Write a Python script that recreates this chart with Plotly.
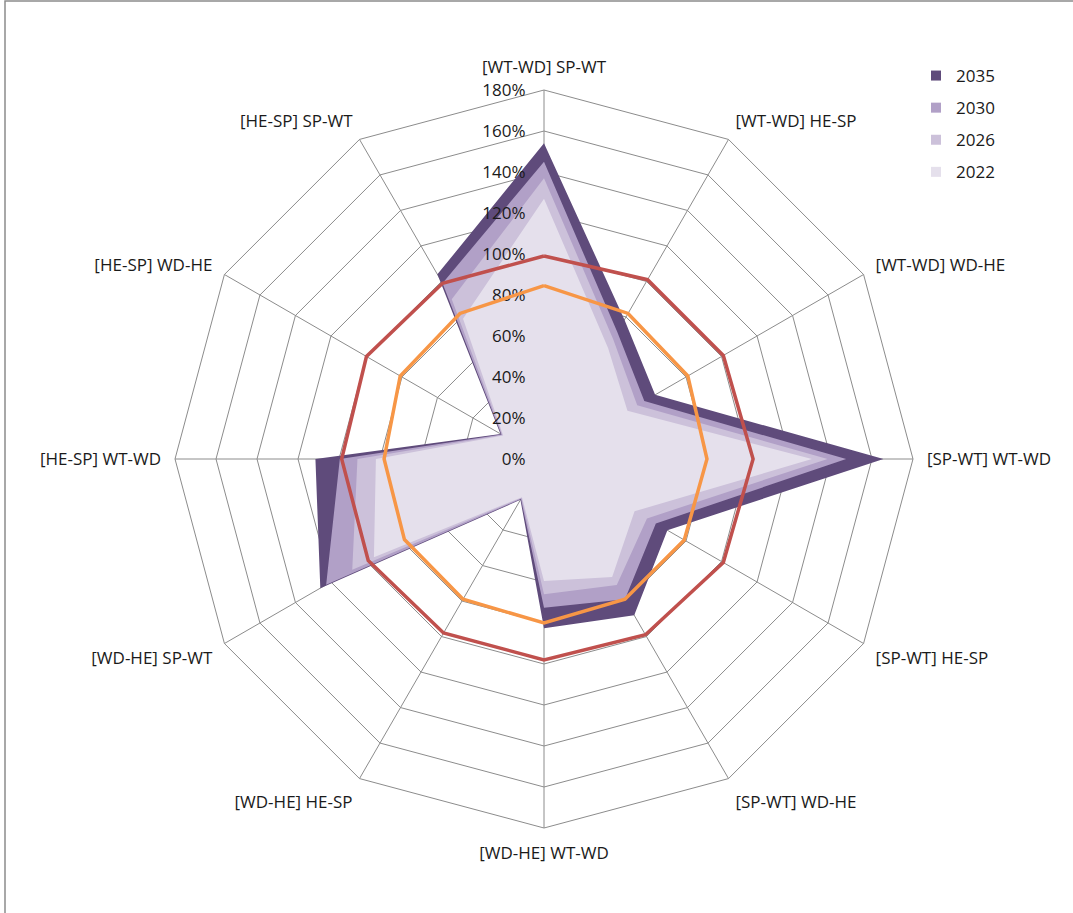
import plotly.graph_objects as go

# Axis categories, clockwise from the top
categories = [
    "[WT-WD] SP-WT", "[WT-WD] HE-SP", "[WT-WD] WD-HE",
    "[SP-WT] WT-WD", "[SP-WT] HE-SP", "[SP-WT] WD-HE",
    "[WD-HE] WT-WD", "[WD-HE] HE-SP", "[WD-HE] SP-WT",
    "[HE-SP] WT-WD", "[HE-SP] WD-HE", "[HE-SP] SP-WT",
]

# Filled series (share of capacity)
v2035 = [1.54, 0.785, 0.626, 1.656, 0.695, 0.88, 0.825, 0.23, 1.26, 1.115, 0.245, 1.04]
v2030 = [1.45, 0.715, 0.565, 1.474, 0.63, 0.79, 0.726, 0.225, 1.227, 0.996, 0.24, 0.99]
v2026 = [1.37, 0.675, 0.525, 1.383, 0.58, 0.71, 0.66, 0.22, 1.08, 0.91, 0.235, 0.90]
v2022 = [1.27, 0.625, 0.47, 1.307, 0.51, 0.665, 0.595, 0.215, 0.958, 0.82, 0.23, 0.79]

# Threshold lines
limit_upper = [0.99, 1.01, 1.01, 1.02, 1.01, 0.99, 0.98, 0.98, 0.99, 0.987, 1.00, 0.99]
limit_lower = [0.846, 0.82, 0.81, 0.795, 0.79, 0.79, 0.80, 0.79, 0.786, 0.78, 0.81, 0.82]

series = [
    ("2035", v2035, "#5F4B7B"),
    ("2030", v2030, "#B1A0C7"),
    ("2026", v2026, "#CCC1DA"),
    ("2022", v2022, "#E5E0EC"),
]

W, H = 1073, 913
cx, cy, R = 544, 459, 369
dom_x = [(cx - R) / W, (cx + R) / W]
dom_y = [(H - cy - R) / H, (H - cy + R) / H]

FONT = "Open Sans"
FS = 17
TXT = "#1A1A1A"
GRID = "#8C8C8C"

fig = go.Figure()

for name, vals, col in series:
    fig.add_trace(go.Scatterpolar(
        r=vals, theta=categories, fill="toself", fillcolor=col,
        mode="lines", line=dict(width=0, color=col),
        name=name, showlegend=False, subplot="polar", hoverinfo="skip",
    ))

closed = categories + categories[:1]
fig.add_trace(go.Scatterpolar(
    r=limit_upper + limit_upper[:1], theta=closed, mode="lines",
    line=dict(color="#C0504D", width=3.5), showlegend=False, subplot="polar2",
))
fig.add_trace(go.Scatterpolar(
    r=limit_lower + limit_lower[:1], theta=closed, mode="lines",
    line=dict(color="#F79646", width=3.5), showlegend=False, subplot="polar2",
))

# legend swatches
for name, vals, col in series:
    fig.add_trace(go.Scatterpolar(
        r=[None], theta=[categories[0]], mode="markers",
        marker=dict(symbol="square", size=10, color=col),
        name=name, legendgroup=name, showlegend=True, subplot="polar2",
    ))

angular_common = dict(
    type="category", categoryorder="array", categoryarray=categories,
    direction="clockwise", rotation=90,
)

fig.update_layout(
    width=W, height=H,
    margin=dict(l=0, r=0, t=0, b=0),
    paper_bgcolor="white",
    font=dict(family=FONT, size=FS, color=TXT),
    polar=dict(
        domain=dict(x=dom_x, y=dom_y),
        gridshape="linear",
        bgcolor="white",
        angularaxis=dict(
            **angular_common,
            showgrid=True, gridcolor=GRID, gridwidth=1,
            showline=True, linecolor=GRID, linewidth=1,
            ticks="outside", ticklen=10, tickcolor="rgba(0,0,0,0)",
            tickfont=dict(family=FONT, size=FS, color=TXT),
            layer="above traces",
        ),
        radialaxis=dict(
            range=[0, 1.8], dtick=0.2, tick0=0,
            showgrid=True, gridcolor=GRID, gridwidth=1,
            showline=False, showticklabels=False, ticks="",
            layer="below traces",
        ),
    ),
    polar2=dict(
        domain=dict(x=dom_x, y=dom_y),
        gridshape="linear",
        bgcolor="rgba(0,0,0,0)",
        angularaxis=dict(
            **angular_common,
            showgrid=False, showline=False, showticklabels=False, ticks="",
        ),
        radialaxis=dict(
            range=[0, 1.8], dtick=0.2, tick0=0, tickformat=".0%",
            angle=90, tickangle=90, side="counterclockwise",
            showgrid=False, showline=False,
            ticks="outside", ticklen=12, tickcolor="rgba(0,0,0,0)",
            tickfont=dict(family=FONT, size=FS, color=TXT),
            layer="below traces",
        ),
    ),
    legend=dict(
        x=916 / W, xanchor="left", y=1 - 58 / H, yanchor="top",
        traceorder="grouped", tracegroupgap=7,
        font=dict(family=FONT, size=FS, color=TXT),
        bgcolor="rgba(0,0,0,0)",
    ),
    shapes=[dict(
        type="rect", xref="paper", yref="paper",
        x0=5 / W, x1=1.02, y0=-0.02, y1=1 - 1 / H,
        line=dict(color="#8C8C8C", width=1.5), fillcolor="rgba(0,0,0,0)",
        layer="below",
    )],
)

fig.write_html("out.html")
